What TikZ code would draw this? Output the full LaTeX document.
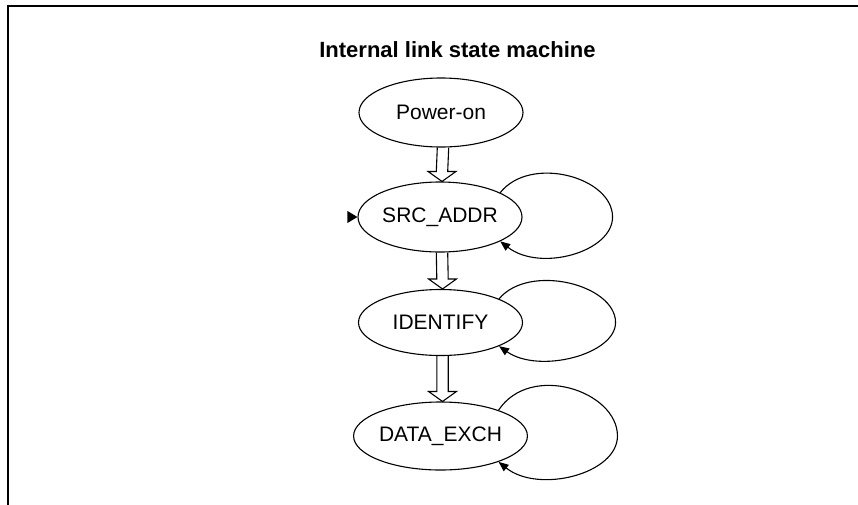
\documentclass[tikz,border=0pt]{standalone}
\usepackage{fontspec}
\setmainfont{Liberation Sans}
\usetikzlibrary{arrows.meta,calc,shapes.geometric}
\newcommand{\hollowarrow}[2]{%
  \draw[conn] ($(#1.south)+(-3.7,0)$) -- ($(#2.north)+(-3.7,-10)$) -- ($(#2.north)+(-12,-10)$) -- ($(#2.north)+(2,0)$) -- ($(#2.north)+(16,-10)$) -- ($(#2.north)+(7.7,-10)$) -- ($(#1.south)+(7.7,0)$);}
\begin{document}
\begin{tikzpicture}[x=1pt,y=-1pt,
  state/.style={draw,ellipse,line width=1.1pt,minimum width=164pt,minimum height=68pt,inner sep=0pt,font=\fontsize{21}{24}\selectfont},
  conn/.style={line width=1.1pt},
  loopline/.style={line width=1.1pt,-{Triangle[length=10pt,width=8pt]}},
  frameline/.style={line width=2pt}]
\useasboundingbox (0,0) rectangle (858,504);
\draw[frameline] (8,505) -- (8,6) -- (859,6);
\node[font=\bfseries\fontsize{22}{26}\selectfont, anchor=base] (title) at (457.5,57) {Internal link state machine};
\node[state,minimum height=69pt] (p) at (441,112.5) {Power-on};
\node[state,minimum height=70pt] (s) at (440,217) {SRC\_ADDR};
\node[state,minimum height=66pt] (i) at (440.5,322.5) {IDENTIFY};
\node[state,minimum height=68pt] (d) at (440.5,436) {DATA\_EXCH};
\hollowarrow{p}{s}
\hollowarrow{s}{i}
\hollowarrow{i}{d}
\fill (s.west) -- ++(-10,-6) -- ++(0,12) -- cycle;
\coordinate (sr) at ($(s.east)+(90,0)$);
\coordinate (ir) at ($(i.east)+(92.5,0)$);
\coordinate (dr) at ($(d.east)+(89.5,0)$);
\draw[loopline] (s.22) .. controls ($(s.22)+(30,-38)$) and ($(sr)+(0,-40)$) .. (sr) .. controls ($(sr)+(0,35)$) and ($(s.-22)+(40,31)$) .. (s.-22);
\draw[loopline] (i.22) .. controls ($(i.22)+(30,-36)$) and ($(ir)+(0,-38)$) .. (ir) .. controls ($(ir)+(0,32)$) and ($(i.-22)+(40,28)$) .. (i.-22);
\draw[loopline] (d.24) .. controls ($(d.24)+(32,-48)$) and ($(dr)+(0,-45)$) .. (dr) .. controls ($(dr)+(0,38)$) and ($(d.-24)+(40,32)$) .. (d.-24);
\end{tikzpicture}
\end{document}
